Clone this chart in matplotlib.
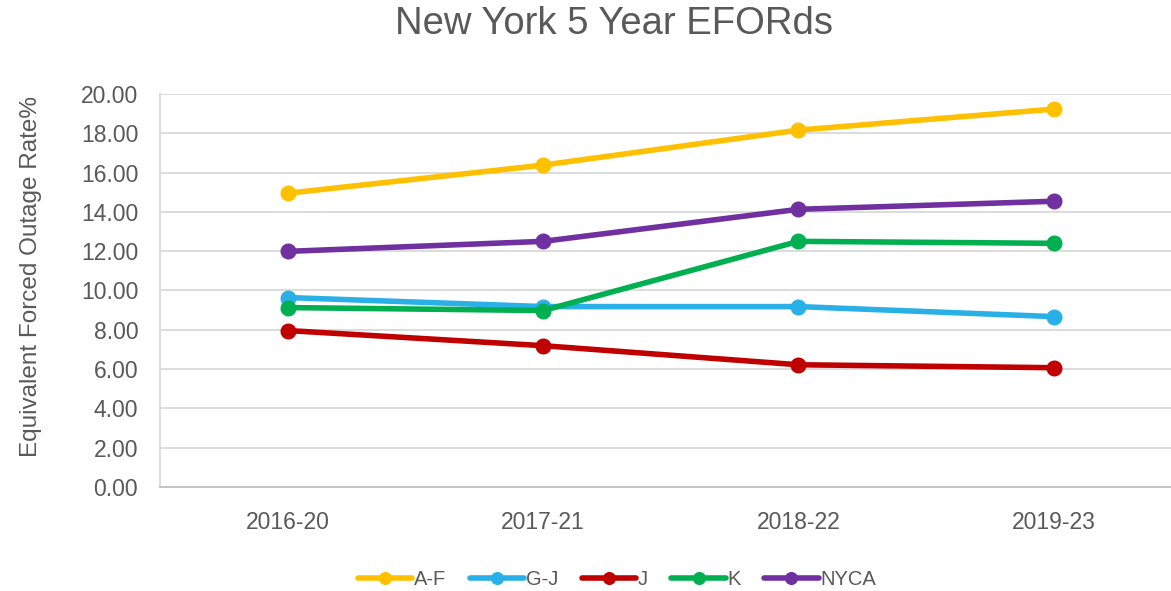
import matplotlib.pyplot as plt
from matplotlib.ticker import FormatStrFormatter

# 5-year EFORd by zone
periods = ['2016-20', '2017-21', '2018-22', '2019-23']
a_f = [14.95, 16.38, 18.16, 19.23]
g_j = [9.64, 9.18, 9.18, 8.67]
j = [7.96, 7.19, 6.22, 6.07]
k = [9.13, 8.98, 12.50, 12.40]
nyca = [11.99, 12.50, 14.13, 14.54]

series = [('A-F', a_f, '#FFC000'),
          ('G-J', g_j, '#29B0E6'),
          ('J', j, '#C00000'),
          ('K', k, '#00B050'),
          ('NYCA', nyca, '#7030A0')]

plt.rcParams['font.family'] = ['Liberation Sans', 'DejaVu Sans']
text_color = '#595959'

fig = plt.figure(figsize=(11.71, 5.91), dpi=100)
ax = fig.add_axes([0.137, 0.176, 0.863, 0.665])

x = range(len(periods))
for name, vals, color in series:
    ax.plot(x, vals, color=color, linewidth=4, marker='o', markersize=10.5,
            solid_capstyle='round', label=name)

ax.set_xlim(-0.5, 3.46)
ax.set_ylim(0, 20)
ax.set_yticks(range(0, 21, 2))
ax.yaxis.set_major_formatter(FormatStrFormatter('%.2f'))
ax.set_xticks(list(x))
ax.set_xticklabels(periods)
ax.grid(axis='y', color='#d9d9d9', linewidth=1.3)
ax.set_axisbelow(True)
for side in ['top', 'right']:
    ax.spines[side].set_visible(False)
ax.spines['left'].set_color('#d9d9d9')
ax.spines['bottom'].set_color('#bfbfbf')
ax.spines['left'].set_linewidth(1.3)
ax.spines['bottom'].set_linewidth(1.3)
ax.tick_params(axis='both', length=0, labelsize=16.5, colors=text_color)
ax.tick_params(axis='y', pad=16)
ax.tick_params(axis='x', pad=17)

ax.set_ylabel('Equivalent Forced Outage Rate%', fontsize=17.5, color=text_color)
ax.yaxis.set_label_coords(-0.117, 0.535)
fig.suptitle('New York 5 Year EFORds', fontsize=27.5, color=text_color, x=0.524, y=0.99)

leg = ax.legend(loc='upper center', bbox_to_anchor=(0.452, -0.165), ncol=5, frameon=False,
                fontsize=14.5, handlelength=2.7, handletextpad=0.1, columnspacing=1.15,
                markerscale=0.8)
for t in leg.get_texts():
    t.set_color(text_color)

plt.savefig('out.png', dpi=100)
